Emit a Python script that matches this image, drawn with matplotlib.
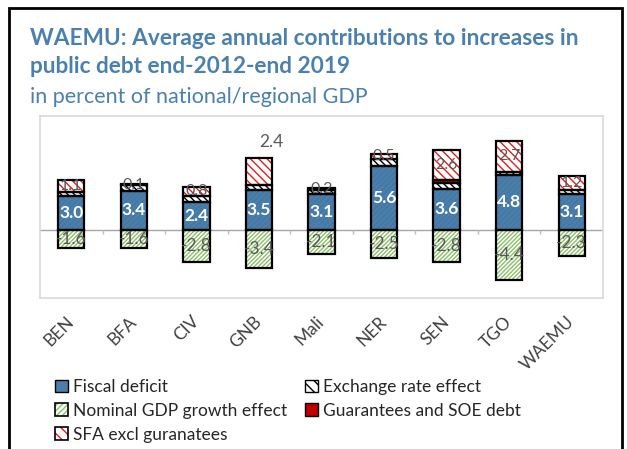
import matplotlib.pyplot as plt
from matplotlib.patches import Patch, Rectangle
from matplotlib.legend_handler import HandlerTuple
import numpy as np

plt.rcParams['font.family'] = ['Lato', 'DejaVu Sans']
plt.rcParams['hatch.linewidth'] = 1.0

# data (percent of GDP)
countries = ["BEN", "BFA", "CIV", "GNB", "Mali", "NER", "SEN", "TGO", "WAEMU"]
fiscal_deficit = [3.0, 3.4, 2.4, 3.5, 3.1, 5.6, 3.6, 4.8, 3.1]
exchange_rate = [0.3, 0.5, 0.6, 0.4, 0.4, 0.6, 0.5, 0.3, 0.4]
guarantees = [0.0, 0.0, 0.0, 0.0, 0.0, 0.0, 0.3, 0.0, 0.0]
sfa_excl = [1.1, 0.1, 0.8, 2.4, 0.2, 0.5, 2.6, 2.7, 1.2]
nominal_gdp = [-1.6, -1.6, -2.8, -3.4, -2.1, -2.5, -2.8, -4.4, -2.3]
label_above = ["GNB"]  # SFA label sits above the bar here

BLUE = "#4A7EAB"
TITLE_BLUE = "#4A80AE"
GREEN = "#8DBF6A"
RED_H = "#E0201B"
DARK_RED = "#C00000"
GRAY_TXT = "#595959"
H_GREEN = "////////"
H_RED = "\\\\\\\\"
H_EX = "\\\\\\\\\\"

fig = plt.figure(figsize=(6.27, 4.49), dpi=100)
ax = fig.add_axes([40 / 627, 1 - 298 / 449, 563 / 627, 182 / 449])

x = np.arange(len(countries))
w = 0.42


def seg(bottom, height, face, hatch=None, hcolor="black"):
    ax.bar(x, height, w, bottom=bottom, color=face, edgecolor=hcolor,
           hatch=hatch, linewidth=0, zorder=2)
    ax.bar(x, height, w, bottom=bottom, fill=False, edgecolor="black",
           linewidth=1.6, zorder=3)


fd = np.array(fiscal_deficit)
ex = np.array(exchange_rate)
gu = np.array(guarantees)
sf = np.array(sfa_excl)
ng = np.array(nominal_gdp)

seg(0, fd, BLUE, "//////", "#4577A3")
seg(fd, ex, "white", H_EX, "black")
mask = gu > 0
ax.bar(x[mask], gu[mask], w, bottom=(fd + ex)[mask], color=DARK_RED,
       edgecolor="black", linewidth=1.6, zorder=3)
seg(fd + ex + gu, sf, "white", H_RED, RED_H)
seg(0, ng, "white", H_GREEN, GREEN)

for i, c in enumerate(countries):
    ax.text(x[i], fd[i] / 2, f"{fd[i]:.1f}", ha="center", va="center",
            color="white", fontsize=12.5, fontweight="bold", zorder=4)
    ax.text(x[i], ng[i] / 2, f"{ng[i]:.1f}", ha="center", va="center",
            color=GRAY_TXT, fontsize=12.5, zorder=4)
    top = fd[i] + ex[i] + gu[i]
    if c in label_above:
        ax.text(x[i] + 0.2, top + sf[i] + 1.45, f"{sf[i]:.1f}", ha="center",
                va="center", color=GRAY_TXT, fontsize=12.5, zorder=4)
    else:
        ax.text(x[i], top + sf[i] / 2, f"{sf[i]:.1f}", ha="center",
                va="center", color=GRAY_TXT, fontsize=11.5, zorder=4)

ax.set_xlim(-0.5, len(countries) - 0.5)
ax.set_ylim(-6, 10)
ax.axhline(0, color="#A6A6A6", linewidth=1, zorder=1)
ax.vlines(np.arange(len(countries) - 1) + 0.5, -0.35, 0, color="#BFBFBF",
          linewidth=1, zorder=1)
ax.set_yticks([])
ax.set_xticks(x)
ax.set_xticklabels(countries, rotation=45, ha="right", va="center",
                   rotation_mode="anchor", fontsize=12.5, color="#404040")
ax.tick_params(axis="x", length=0, pad=15)
for s in ax.spines.values():
    s.set_color("#D9D9D9")
    s.set_linewidth(1.2)

fig.text(30 / 627, 1 - 28 / 449,
         "WAEMU: Average annual contributions to increases in\npublic debt end-2012-end 2019",
         ha="left", va="top", fontsize=16.3, fontweight="bold",
         color=TITLE_BLUE, linespacing=1.42)
fig.text(30 / 627, 1 - 87 / 449, "in percent of national/regional GDP",
         ha="left", va="top", fontsize=15.5, color=TITLE_BLUE)

outline = Patch(facecolor="none", edgecolor="black", linewidth=1.2)
handles = [
    Patch(facecolor=BLUE, edgecolor="black"),
    (Patch(facecolor="white", edgecolor=GREEN, hatch="//////", linewidth=0), outline),
    (Patch(facecolor="white", edgecolor=RED_H, hatch="\\\\\\", linewidth=0), outline),
    Patch(facecolor="white", edgecolor="black", hatch="\\\\\\"),
    Patch(facecolor=DARK_RED, edgecolor="black"),
]
labels = ["Fiscal deficit", "Nominal GDP growth effect", "SFA excl guranatees",
          "Exchange rate effect", "Guarantees and SOE debt"]
fig.legend(handles, labels, loc="upper left", ncol=2,
           bbox_to_anchor=(48 / 627, 1 - 372 / 449), frameon=False,
           fontsize=12.5, handlelength=0.75, handleheight=0.75,
           handletextpad=0.3, columnspacing=1.0, labelspacing=0.45,
           borderaxespad=0, labelcolor="#262626",
           handler_map={tuple: HandlerTuple(ndivide=1, pad=0)})

# outer frame
fig.patches.append(Rectangle((9 / 627, -0.02), 613 / 627, 1.02 - 8 / 449,
                             transform=fig.transFigure, fill=False,
                             edgecolor="black", linewidth=2))

fig.savefig("out.png", dpi=100)
